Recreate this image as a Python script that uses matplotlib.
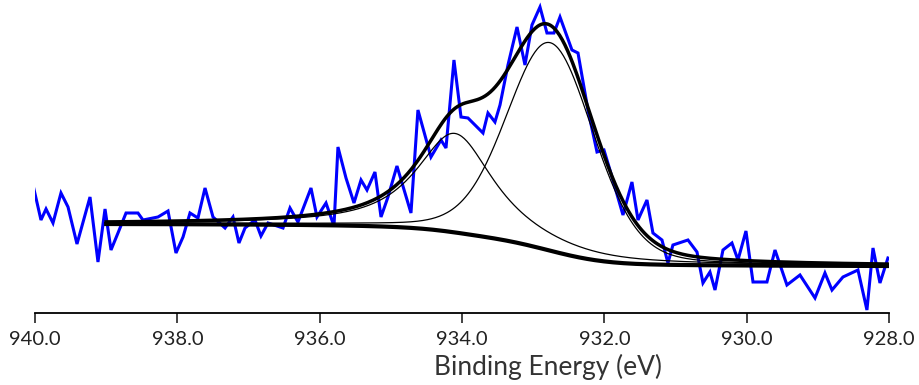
import numpy as np
import matplotlib
matplotlib.use("Agg")
import matplotlib.pyplot as plt

# ---- measured spectrum (binding energy in eV, counts in arbitrary units) ----
px_x = [33, 41, 46, 53, 61, 68, 77, 90, 98, 105, 111, 118, 126, 138, 143, 153, 158, 168,
        176, 183, 190, 198, 205, 213, 225, 233, 239, 245, 255, 261, 268, 283, 290, 298,
        311, 317, 326, 334, 338, 346, 354, 361, 367, 375, 381, 388, 397, 411, 418, 431,
        441, 446, 454, 461, 468, 483, 488, 495, 500, 508, 517, 525, 532, 540, 547, 554,
        560, 572, 578, 588, 597, 604, 610, 623, 632, 638, 647, 653, 662, 668, 673, 688,
        697, 703, 710, 715, 723, 732, 738, 746, 753, 767, 775, 787, 800, 815, 825, 832,
        843, 858, 867, 873, 880, 888]
px_y = [185, 220, 209, 223, 193, 207, 244, 197, 262, 209, 250, 233, 213, 213, 220, 218, 217, 211,
        253, 237, 213, 218, 188, 217, 228, 217, 243, 228, 220, 236, 223, 228, 208, 222,
        188, 217, 203, 226, 147, 178, 203, 180, 190, 172, 217, 197, 166, 213, 110, 157,
        140, 148, 60, 117, 118, 133, 113, 122, 105, 65, 27, 65, 25, 7, 33, 33,
        17, 50, 53, 110, 152, 150, 170, 215, 182, 220, 200, 233, 240, 263, 245, 240,
        252, 283, 272, 290, 250, 243, 260, 231, 282, 282, 250, 285, 275, 298, 273, 290,
        277, 270, 310, 248, 283, 258]
energy = [round(940.0 - (x - 35) / 71.17, 3) for x in px_x]
counts = [313 - y for y in px_y]

# ---- fit parameters ----
peak_centers = [934.10, 932.76]     # eV
peak_heights = [99.0, 208.0]        # above background
peak_fwhm = [1.30, 1.45]            # eV
peak_lorentz = [0.9, 0.2]           # Lorentzian fraction of GL shape
fit_range = [939.0, 928.0]
bg_left, bg_right = 89.0, 47.0      # Shirley end points

x_ticks = [940.0, 938.0, 936.0, 934.0, 932.0, 930.0, 928.0]
x_label = "Binding Energy (eV)"


def gl(e, c, h, w, m):
    t = (e - c) / w
    return h * ((1 - m) * np.exp(-4 * np.log(2) * t ** 2) + m / (1 + 4 * t ** 2))


e_fit = np.linspace(fit_range[1], fit_range[0], 600)
comps = [gl(e_fit, c, h, w, m) for c, h, w, m in
         zip(peak_centers, peak_heights, peak_fwhm, peak_lorentz)]
total = np.sum(comps, axis=0)
cum = np.concatenate([[0], np.cumsum((total[1:] + total[:-1]) / 2 * np.diff(e_fit))])
bg = bg_right + (bg_left - bg_right) * cum / cum[-1]

plt.rcParams['font.family'] = ['Lato', 'DejaVu Sans']
fig = plt.figure(figsize=(9.2, 3.85), dpi=100)
ax = fig.add_axes([35 / 920, 1 - 313 / 385, (889 - 35) / 920, 313 / 385])

ax.plot(energy, counts, color='#0000ff', lw=2.2, zorder=2, solid_joinstyle='miter')
for comp in comps:
    ax.plot(e_fit, bg + comp, color='black', lw=0.9, zorder=3)
ax.plot(e_fit, bg, color='black', lw=3.0, zorder=4)
ax.plot(e_fit, bg + total, color='black', lw=2.5, zorder=5)

ax.set_xlim(940.0, 928.0)
ax.set_ylim(0, 313)
ax.set_xticks(x_ticks)
ax.set_xticklabels([f"{t:.1f}" for t in x_ticks], fontsize=14.5)
ax.tick_params(axis='x', direction='out', length=7, width=1.2, pad=6, colors='#222222')
ax.set_yticks([])
for s in ['left', 'top', 'right']:
    ax.spines[s].set_visible(False)
ax.spines['bottom'].set_linewidth(1.3)
ax.set_xlabel(x_label, fontsize=19, color='#333333')
ax.xaxis.set_label_coords((548 - 35) / (889 - 35), -0.13)
ax.xaxis.label.set_horizontalalignment('center')

fig.savefig("out.png", dpi=100)
